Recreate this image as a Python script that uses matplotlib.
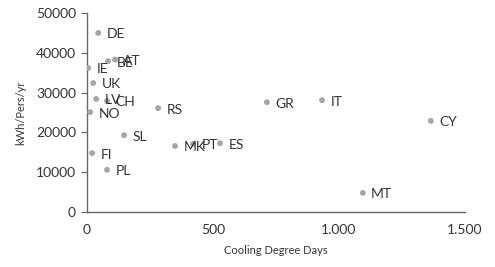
import matplotlib
matplotlib.use("Agg")
import matplotlib.pyplot as plt
from matplotlib.ticker import FuncFormatter

countries = ["DE", "BE", "AT", "IE", "UK", "LV", "CH", "NO", "RS", "SL", "FI", "PL",
             "MK", "PT", "ES", "GR", "IT", "CY", "MT"]
cdd = [44, 83, 111, 4, 24, 36, 79, 12, 282, 147, 20, 79,
       349, 421, 528, 714, 933, 1365, 1095]
kwh = [45000, 37900, 38300, 36200, 32400, 28400, 27900, 25100, 26100, 19300, 14800, 10600,
       16600, 17100, 17300, 27600, 28100, 22900, 4800]

plt.rcParams["font.family"] = ["Lato", "DejaVu Sans"]

fig = plt.figure(figsize=(4.95, 2.67), dpi=100)
ax = fig.add_axes([0.176, 0.206, 0.763, 0.745])

# Excel-style data labels, to the right of each point (overlaps kept as in source)
ax.scatter(cdd, kwh, s=18, color="#a6a6a6", edgecolors="none", zorder=3)
for name, x, y in zip(countries, cdd, kwh):
    ax.annotate(name, (x, y), xytext=(6, -1), textcoords="offset points",
                ha="left", va="center", fontsize=10, color="#333333")

ax.set_xlim(0, 1500)
ax.set_ylim(0, 50000)
ax.set_xticks([0, 500, 1000, 1500])
ax.set_yticks(range(0, 50001, 10000))
ax.xaxis.set_major_formatter(FuncFormatter(lambda v, p: f"{int(v):,}".replace(",", ".")))
ax.tick_params(axis="x", length=0, pad=9, labelsize=10, colors="#333333")
ax.tick_params(axis="y", length=4, width=0.8, pad=4, labelsize=10, colors="#333333")
ax.tick_params(axis="y", color="#666666")

for side in ["top", "right"]:
    ax.spines[side].set_visible(False)
for side in ["left", "bottom"]:
    ax.spines[side].set_color("#666666")
    ax.spines[side].set_linewidth(1.0)

ax.set_xlabel("Cooling Degree Days", fontsize=8, color="#333333", labelpad=6)
ax.set_ylabel("kWh/Pers/yr", fontsize=8, color="#333333", labelpad=7)

fig.savefig("out.png", dpi=100)
